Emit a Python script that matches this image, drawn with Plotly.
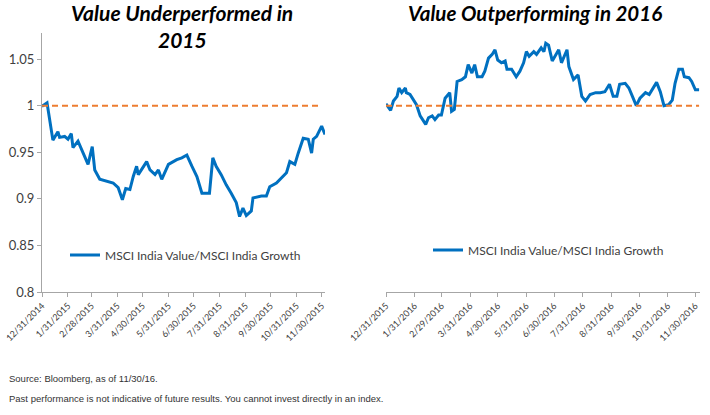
import plotly.graph_objects as go

# ---------------- data ----------------
left_dates = ["2014-12-31","2015-01-01","2015-01-06","2015-01-10","2015-01-13","2015-01-19","2015-01-21",
    "2015-01-27","2015-01-31","2015-02-04","2015-02-06","2015-02-12","2015-02-18","2015-02-24",
    "2015-03-01","2015-03-04","2015-03-10","2015-03-18","2015-03-26","2015-04-01","2015-04-06",
    "2015-04-10","2015-04-15","2015-04-19","2015-04-23","2015-04-25","2015-05-05","2015-05-09",
    "2015-05-15","2015-05-19","2015-05-23","2015-05-31","2015-06-10","2015-06-16","2015-06-22",
    "2015-06-28","2015-07-04","2015-07-10","2015-07-19","2015-07-23","2015-07-27","2015-08-02",
    "2015-08-08","2015-08-14","2015-08-20","2015-08-24","2015-08-28","2015-09-01","2015-09-07",
    "2015-09-09","2015-09-19","2015-09-25","2015-09-29","2015-10-07","2015-10-13","2015-10-19",
    "2015-10-23","2015-10-29","2015-11-02","2015-11-08","2015-11-14","2015-11-18","2015-11-20",
    "2015-11-24","2015-11-30","2015-12-04"]
left_values = [1.000,1.000,1.003,0.982,0.963,0.972,0.966,
    0.967,0.964,0.970,0.955,0.962,0.949,0.937,
    0.956,0.931,0.921,0.919,0.917,0.912,0.899,
    0.911,0.910,0.924,0.935,0.926,0.940,0.931,
    0.926,0.931,0.921,0.937,0.942,0.944,0.947,
    0.935,0.924,0.906,0.906,0.944,0.935,0.926,
    0.915,0.906,0.896,0.881,0.890,0.882,0.887,
    0.901,0.903,0.903,0.913,0.917,0.922,0.928,
    0.940,0.937,0.949,0.965,0.964,0.949,0.964,
    0.967,0.978,0.969]

right_dates = ["2015-12-31","2016-01-02","2016-01-05","2016-01-08","2016-01-12","2016-01-14","2016-01-17",
    "2016-01-21","2016-01-22","2016-01-26","2016-01-30","2016-02-02","2016-02-06","2016-02-09",
    "2016-02-12","2016-02-15","2016-02-19","2016-02-22","2016-02-26","2016-02-29","2016-03-04",
    "2016-03-09","2016-03-11","2016-03-14","2016-03-17","2016-03-22","2016-03-26","2016-03-29",
    "2016-04-02","2016-04-05","2016-04-08","2016-04-13","2016-04-16","2016-04-20","2016-04-24",
    "2016-04-27","2016-04-30","2016-05-04","2016-05-08","2016-05-10","2016-05-15","2016-05-20",
    "2016-05-24","2016-05-28","2016-05-31","2016-06-03","2016-06-08","2016-06-11","2016-06-16",
    "2016-06-19","2016-06-21","2016-06-24","2016-06-28","2016-07-01","2016-07-05","2016-07-08",
    "2016-07-14","2016-07-16","2016-07-21","2016-07-26","2016-07-30","2016-08-03","2016-08-08",
    "2016-08-14","2016-08-19","2016-08-24","2016-08-29","2016-09-02","2016-09-06","2016-09-09",
    "2016-09-15","2016-09-19","2016-09-24","2016-09-27","2016-10-01","2016-10-07","2016-10-11",
    "2016-10-15","2016-10-19","2016-10-23","2016-10-27","2016-11-01","2016-11-05","2016-11-08",
    "2016-11-12","2016-11-16","2016-11-18","2016-11-23","2016-11-26","2016-11-30","2016-12-04"]
right_values = [1.002,0.999,0.995,1.005,1.010,1.019,1.014,
    1.019,1.014,1.012,1.005,1.001,0.989,0.985,
    0.980,0.987,0.989,0.985,0.990,0.990,1.008,
    1.014,0.994,0.996,1.026,1.028,1.031,1.044,
    1.035,1.044,1.031,1.031,1.037,1.051,1.055,
    1.060,1.049,1.046,1.048,1.039,1.039,1.031,
    1.037,1.046,1.058,1.053,1.058,1.055,1.062,
    1.058,1.067,1.065,1.048,1.053,1.060,1.046,
    1.060,1.042,1.028,1.033,1.010,1.005,1.012,
    1.014,1.014,1.015,1.023,1.010,1.010,1.023,
    1.024,1.019,1.008,1.000,1.008,1.014,1.012,
    1.019,1.025,1.015,1.000,1.001,1.006,1.024,
    1.039,1.039,1.031,1.030,1.026,1.017,1.017]

baseline = 1.0
series_name = "MSCI India Value/MSCI India Growth"

left_ticks = ["2014-12-31","2015-01-31","2015-02-28","2015-03-31","2015-04-30","2015-05-31",
              "2015-06-30","2015-07-31","2015-08-31","2015-09-30","2015-10-31","2015-11-30"]
left_ticktext = ["12/31/2014","1/31/2015","2/28/2015","3/31/2015","4/30/2015","5/31/2015",
                 "6/30/2015","7/31/2015","8/31/2015","9/30/2015","10/31/2015","11/30/2015"]
right_ticks = ["2015-12-31","2016-01-31","2016-02-29","2016-03-31","2016-04-30","2016-05-31",
               "2016-06-30","2016-07-31","2016-08-31","2016-09-30","2016-10-31","2016-11-30"]
right_ticktext = ["12/31/2015","1/31/2016","2/29/2016","3/31/2016","4/30/2016","5/31/2016",
                  "6/30/2016","7/31/2016","8/31/2016","9/30/2016","10/31/2016","11/30/2016"]
y_ticks = [0.8, 0.85, 0.9, 0.95, 1, 1.05]
y_ticktext = ["0.8", "0.85", "0.9", "0.95", "1", "1.05"]

# ---------------- style ----------------
BLUE = "#0070C0"
ORANGE = "#ED7D31"
AXIS = "#A6A6A6"
TXT = "#404040"
FONT = "Lato, 'Open Sans', sans-serif"
W, H = 710, 415

fig = go.Figure()

fig.add_trace(go.Scatter(x=left_dates, y=left_values, mode="lines", name=series_name,
                         line=dict(color=BLUE, width=3), xaxis="x", yaxis="y",
                         legend="legend", showlegend=True))
fig.add_trace(go.Scatter(x=[left_dates[0], left_ticks[-1]], y=[baseline, baseline], mode="lines",
                         line=dict(color=ORANGE, width=2, dash="6px,4px"), xaxis="x", yaxis="y",
                         showlegend=False, hoverinfo="skip"))
fig.add_trace(go.Scatter(x=right_dates, y=right_values, mode="lines", name=series_name,
                         line=dict(color=BLUE, width=3), xaxis="x2", yaxis="y2",
                         legend="legend2", showlegend=True))
fig.add_trace(go.Scatter(x=[right_dates[0], right_dates[-1]], y=[baseline, baseline], mode="lines",
                         line=dict(color=ORANGE, width=2, dash="6px,4px"), xaxis="x2", yaxis="y2",
                         showlegend=False, hoverinfo="skip"))

ydom = [1 - 292 / H, 1 - 33 / H]
yrange = [0.8, 1.078]

xcommon = dict(type="date", tickmode="array", tickangle=-45, showgrid=False, zeroline=False,
               showline=True, linecolor=AXIS, linewidth=1, ticks="outside", ticklen=4,
               tickcolor=AXIS, automargin=False, ticklabeloverflow="allow",
               tickfont=dict(family=FONT, size=9, color=TXT))

fig.update_layout(
    width=W, height=H,
    margin=dict(l=0, r=0, t=0, b=0, autoexpand=False),
    paper_bgcolor="white", plot_bgcolor="white",
    font=dict(family=FONT, color=TXT),
    xaxis=dict(domain=[42 / W, 325 / W], range=["2014-12-31", "2015-12-04"],
               tickvals=left_ticks, ticktext=left_ticktext, anchor="y", **xcommon),
    xaxis2=dict(domain=[386 / W, 700 / W], range=["2015-12-31", "2016-12-05"],
                tickvals=right_ticks, ticktext=right_ticktext, anchor="y2", **xcommon),
    yaxis=dict(domain=ydom, range=yrange, tickmode="array", tickvals=y_ticks, ticktext=y_ticktext,
               showgrid=False, zeroline=False, showline=True, linecolor=AXIS, linewidth=1,
               ticks="outside", ticklen=4, tickcolor=AXIS, anchor="x", automargin=False,
               ticklabeloverflow="allow", tickfont=dict(family=FONT, size=13, color=TXT)),
    yaxis2=dict(domain=ydom, range=yrange, visible=False, anchor="x2", automargin=False),
    legend=dict(x=65 / W, y=1 - 255 / H, xanchor="left", yanchor="middle", bgcolor="rgba(0,0,0,0)",
                font=dict(family=FONT, size=12, color=TXT)),
    legend2=dict(x=428 / W, y=1 - 250 / H, xanchor="left", yanchor="middle", bgcolor="rgba(0,0,0,0)",
                 font=dict(family=FONT, size=12, color=TXT)),
    showlegend=True,
)

fig.add_annotation(x=182 / W, y=1 - 13 / H, xref="paper", yref="paper", showarrow=False,
                   text="<b><i>Value Underperformed in</i></b>",
                   font=dict(family=FONT, size=21, color="black"),
                   xanchor="center", yanchor="middle")
fig.add_annotation(x=182 / W, y=1 - 40 / H, xref="paper", yref="paper", showarrow=False,
                   text="<b><i>2015</i></b>", font=dict(family=FONT, size=21, color="black"),
                   xanchor="center", yanchor="middle")
fig.add_annotation(x=535 / W, y=1 - 13 / H, xref="paper", yref="paper", showarrow=False,
                   text="<b><i>Value Outperforming in 2016</i></b>",
                   font=dict(family=FONT, size=20.5, color="black"),
                   xanchor="center", yanchor="middle")

note_font = dict(family="'Liberation Sans', Arial, sans-serif", size=9.5, color="#333333")
fig.add_annotation(x=7 / W, y=1 - 378 / H, xref="paper", yref="paper", showarrow=False,
                   text="Source: Bloomberg, as of 11/30/16.", font=note_font,
                   xanchor="left", yanchor="middle")
fig.add_annotation(x=7 / W, y=1 - 398 / H, xref="paper", yref="paper", showarrow=False,
                   text="Past performance is not indicative of future results. You cannot invest directly in an index.",
                   font=note_font, xanchor="left", yanchor="middle")

fig.write_html("out.html")
